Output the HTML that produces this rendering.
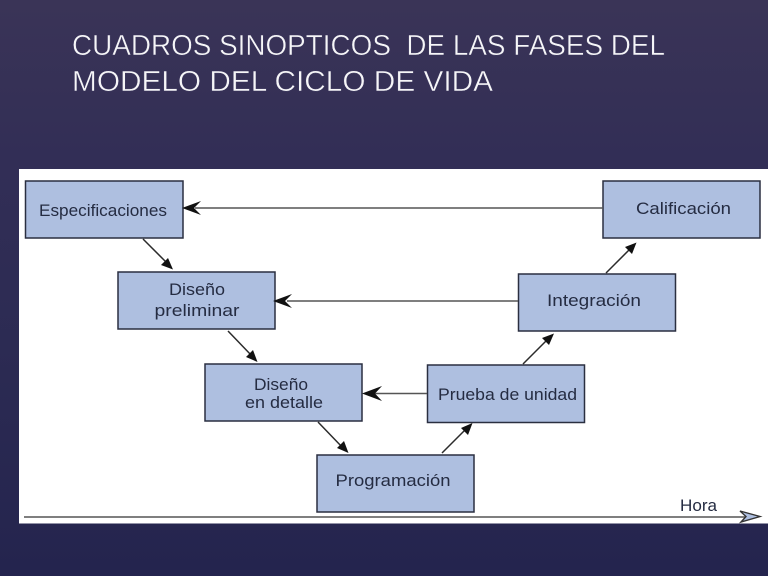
<!DOCTYPE html>
<html><head><meta charset="utf-8"><style>
html,body{margin:0;padding:0;width:768px;height:576px;overflow:hidden;background:#2a2850}
svg{display:block}
</style></head><body>
<svg width="768" height="576" viewBox="0 0 768 576" xmlns="http://www.w3.org/2000/svg">
<defs>
<linearGradient id="bg" x1="0" y1="0" x2="0" y2="1">
<stop offset="0" stop-color="#3a3457"/><stop offset="0.28" stop-color="#322e56"/><stop offset="0.6" stop-color="#2c2b53"/><stop offset="1" stop-color="#24244e"/>
</linearGradient>
</defs>
<rect width="768" height="576" fill="url(#bg)"/>
<g font-family="'Liberation Sans',sans-serif" font-size="29" fill="#f6f6f8" stroke="#38335a" stroke-width="0.45">
<text x="72" y="55" textLength="593" lengthAdjust="spacingAndGlyphs" xml:space="preserve">CUADROS SINOPTICOS  DE LAS FASES DEL</text>
<text x="72" y="91" textLength="421" lengthAdjust="spacingAndGlyphs">MODELO DEL CICLO DE VIDA</text>
</g>
<rect x="19" y="169" width="749" height="354.5" fill="#fff"/>
<g fill="#aebfe0" stroke="#2a2f40" stroke-width="1.5">
<rect x="25.5" y="181" width="157.5" height="57"/>
<rect x="118" y="272" width="157" height="57"/>
<rect x="205" y="364" width="157" height="57"/>
<rect x="317" y="455" width="157" height="57"/>
<rect x="427.5" y="365" width="157" height="57.5"/>
<rect x="518.5" y="274" width="157" height="57"/>
<rect x="603" y="181" width="157" height="57"/>
</g>
<g stroke="#555" stroke-width="1.6" fill="none">
<line x1="195" y1="208" x2="603" y2="208"/>
<line x1="287" y1="301" x2="518" y2="301"/>
<line x1="375" y1="393.5" x2="427" y2="393.5"/>
</g>
<g stroke="#2b2b2b" stroke-width="1.5" fill="none">
<line x1="143" y1="239" x2="168" y2="264"/>
<line x1="228" y1="331" x2="252" y2="356"/>
<line x1="318" y1="422" x2="343" y2="448"/>
<line x1="442" y1="453" x2="467" y2="428"/>
<line x1="523" y1="364" x2="548" y2="339"/>
<line x1="606" y1="273" x2="631" y2="248"/>
</g>
<g fill="#111">
<path d="M182 208 L201 201 L194 208 L201 215 Z"/>
<path d="M273 301 L292 294 L285 301 L292 308 Z"/>
<path d="M362 393.5 L382 386 L375 393.5 L382 401 Z"/>
<path d="M173 269.5 L161 265 L168 258 Z"/>
<path d="M257.5 362 L246 357 L253 350 Z"/>
<path d="M348.5 453 L337 448 L344 441 Z"/>
<path d="M472.5 423 L468 435 L461 428 Z"/>
<path d="M554 333.5 L549 345 L542 338 Z"/>
<path d="M636.5 242.5 L632 254 L625 247 Z"/>
</g>
<line x1="24" y1="517" x2="745" y2="517" stroke="#555" stroke-width="1.6"/>
<path d="M740 511 L760 516.5 L741 522 L746 516.5 Z" fill="#aebfe0" stroke="#333" stroke-width="1.4"/>
<g font-family="'Liberation Sans',sans-serif" font-size="17" fill="#252c42" text-anchor="middle">
<text x="103" y="216" textLength="128" lengthAdjust="spacingAndGlyphs">Especificaciones</text>
<text x="197" y="295" textLength="56" lengthAdjust="spacingAndGlyphs">Diseño</text>
<text x="197" y="316" textLength="85" lengthAdjust="spacingAndGlyphs">preliminar</text>
<text x="281" y="390" textLength="54" lengthAdjust="spacingAndGlyphs">Diseño</text>
<text x="284" y="408" textLength="78" lengthAdjust="spacingAndGlyphs">en detalle</text>
<text x="393" y="486" textLength="115" lengthAdjust="spacingAndGlyphs">Programación</text>
<text x="507.5" y="400" textLength="139" lengthAdjust="spacingAndGlyphs">Prueba de unidad</text>
<text x="594" y="306" textLength="94" lengthAdjust="spacingAndGlyphs">Integración</text>
<text x="683.5" y="214" textLength="95" lengthAdjust="spacingAndGlyphs">Calificación</text>
<text x="698.5" y="511" textLength="37" lengthAdjust="spacingAndGlyphs">Hora</text>
</g>
</svg>
</body></html>
